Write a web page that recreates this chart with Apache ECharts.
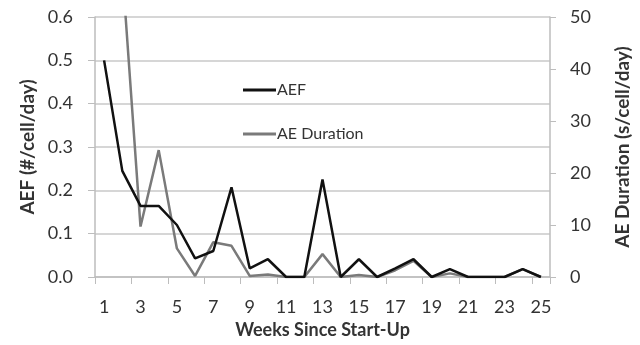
<!DOCTYPE html>
<html>
<head>
<meta charset="utf-8">
<script src="https://cdn.jsdelivr.net/npm/echarts@6/dist/echarts.min.js"></script>
<style>
  html, body { margin: 0; padding: 0; background: #fff; }
  #chart { width: 640px; height: 345px; }
</style>
</head>
<body>
<div id="chart"></div>
<script>
// Weeks since start-up (category axis)
const weeks = ['1','2','3','4','5','6','7','8','9','10','11','12','13',
               '14','15','16','17','18','19','20','21','22','23','24','25'];

// Anode effect frequency, #/cell/day (left axis)
const aef = [0.50, 0.245, 0.164, 0.164, 0.12, 0.043, 0.06, 0.207, 0.02, 0.041,
             0.0, 0.0, 0.225, 0.0, 0.041, 0.0, 0.02, 0.041, 0.0, 0.018,
             0.0, 0.0, 0.0, 0.018, 0.0];

// Anode effect duration, s/cell/day (right axis); week 2 runs off the top of the scale
const aeDuration = [null, 59, 9.7, 24.4, 5.5, 0.2, 6.7, 6.0, 0.2, 0.5,
                    0.0, 0.0, 4.4, 0.0, 0.4, 0.0, 1.3, 3.1, 0.0, 0.7,
                    0.0, 0.0, 0.0, 1.5, 0.0];

const font = 'Lato, "Open Sans", sans-serif';
const textColor = '#333';
const axisGray = '#bdbdbd';

const chart = echarts.init(document.getElementById('chart'));
chart.setOption({
  animation: false,
  backgroundColor: '#fff',
  grid: { left: 95, right: 88, top: 17, bottom: 68, containLabel: false },
  legend: {
    orient: 'vertical',
    left: 238,
    top: 77,
    itemGap: 28,
    itemWidth: 33,
    itemHeight: 3,
    icon: 'rect',
    textStyle: { fontFamily: font, fontSize: 16, color: textColor, padding: [0, 0, 0, -4] },
    data: ['AEF', 'AE Duration']
  },
  xAxis: {
    type: 'category',
    data: weeks,
    boundaryGap: true,
    name: 'Weeks Since Start-Up',
    nameLocation: 'middle',
    nameGap: 44,
    nameTextStyle: { fontFamily: font, fontSize: 18, fontWeight: 'bold', color: textColor },
    axisLine: { lineStyle: { color: axisGray, width: 1.5 } },
    axisTick: { show: true, interval: 1, length: 7, lineStyle: { color: axisGray } },
    axisLabel: { interval: 1, margin: 21, fontFamily: font, fontSize: 18, color: textColor },
    splitLine: { show: false }
  },
  yAxis: [
    {
      type: 'value',
      min: 0, max: 0.6, interval: 0.1,
      name: 'AEF (#/cell/day)',
      nameLocation: 'middle',
      nameGap: 51,
      nameTextStyle: { fontFamily: font, fontSize: 19, fontWeight: 'bold', color: textColor },
      axisLine: { show: true, lineStyle: { color: axisGray, width: 1.5 } },
      axisTick: { show: true, length: 7, lineStyle: { color: axisGray } },
      axisLabel: { margin: 22, fontFamily: font, fontSize: 18, color: textColor,
                   formatter: v => v.toFixed(1) },
      splitLine: { show: true, lineStyle: { color: '#c8c8c8', width: 1.5 } }
    },
    {
      type: 'value',
      min: 0, max: 50, interval: 10,
      position: 'right',
      name: 'AE Duration (s/cell/day)',
      nameLocation: 'middle',
      nameGap: 63,
      nameTextStyle: { fontFamily: font, fontSize: 19, fontWeight: 'bold', color: textColor },
      axisLine: { show: true, lineStyle: { color: axisGray, width: 1.5 } },
      axisTick: { show: true, length: 6, lineStyle: { color: axisGray } },
      axisLabel: { margin: 20, fontFamily: font, fontSize: 18, color: textColor },
      splitLine: { show: false }
    }
  ],
  series: [
    {
      name: 'AE Duration',
      type: 'line',
      yAxisIndex: 1,
      data: aeDuration,
      clip: true,
      symbol: 'none',
      connectNulls: false,
      color: '#7a7a7a',
      lineStyle: { color: '#7a7a7a', width: 2.5 },
      z: 2
    },
    {
      name: 'AEF',
      type: 'line',
      yAxisIndex: 0,
      data: aef,
      clip: true,
      symbol: 'none',
      color: '#111',
      lineStyle: { color: '#111', width: 2.5 },
      z: 3
    }
  ]
});
</script>
</body>
</html>
